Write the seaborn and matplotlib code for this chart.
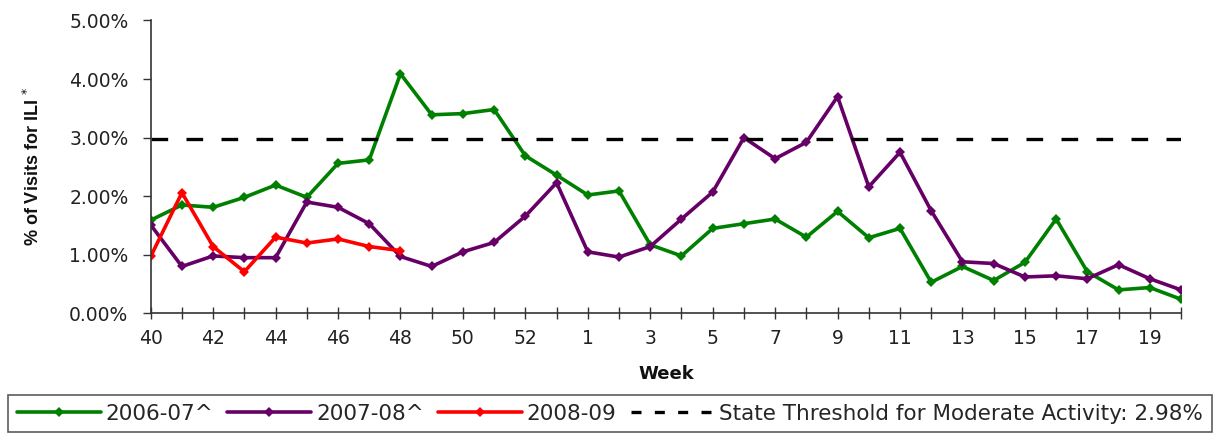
import matplotlib
matplotlib.use("Agg")
import matplotlib.pyplot as plt
import seaborn as sns
import pandas as pd

# week labels along the season (40..53, then 1..20)
weeks = [40, 41, 42, 43, 44, 45, 46, 47, 48, 49, 50, 51, 52, 53,
         1, 2, 3, 4, 5, 6, 7, 8, 9, 10, 11, 12, 13, 14, 15, 16, 17, 18, 19, 20]

ili_2006 = [1.59, 1.85, 1.81, 1.98, 2.19, 1.98, 2.56, 2.62, 4.09, 3.39, 3.41, 3.48,
            2.69, 2.36, 2.02, 2.09, 1.17, 0.98, 1.45, 1.53, 1.61, 1.30, 1.74, 1.29,
            1.45, 0.53, 0.80, 0.56, 0.87, 1.61, 0.71, 0.40, 0.44, 0.24]
ili_2007 = [1.51, 0.80, 0.98, 0.95, 0.95, 1.90, 1.81, 1.53, 0.97, 0.80, 1.05, 1.21,
            1.66, 2.23, 1.05, 0.96, 1.14, 1.61, 2.07, 3.00, 2.64, 2.92, 3.70, 2.16,
            2.75, 1.75, 0.88, 0.85, 0.62, 0.64, 0.59, 0.83, 0.59, 0.40]
ili_2008 = [0.97, 2.06, 1.14, 0.71, 1.30, 1.20, 1.27, 1.14, 1.07]
threshold = 2.98

seasons = ["2006-07^", "2007-08^", "2008-09"]
colors = {"2006-07^": "#008000", "2007-08^": "#660066", "2008-09": "#ff0000"}

rows = []
for name, vals in zip(seasons, [ili_2006, ili_2007, ili_2008]):
    for i, v in enumerate(vals):
        rows.append({"idx": i, "ili": v, "season": name})
df = pd.DataFrame(rows)

sns.set_style("white")
plt.rcParams["font.family"] = ["DejaVu Sans"]

fig = plt.figure(figsize=(12.23, 4.36), dpi=100)
ax = fig.add_axes([150.7 / 1223, 1 - 313.3 / 436, 1030.3 / 1223, 292.8 / 436])

sns.lineplot(data=df, x="idx", y="ili", hue="season", hue_order=seasons,
             palette=colors, marker="D", markersize=5, markeredgewidth=0,
             linewidth=2.6, ax=ax, legend=False)
ax.axhline(threshold, color="black", linestyle=(0, (5, 5.5)), linewidth=2.4)

ax.set_xlim(0, len(weeks) - 1)
ax.set_ylim(0, 5)
ax.set_yticks([0, 1, 2, 3, 4, 5])
ax.set_yticklabels([f"{v:.2f}%" for v in [0, 1, 2, 3, 4, 5]], fontsize=13.5, color="#222222")
ax.set_xticks(range(len(weeks)))
ax.set_xticklabels([str(w) if i % 2 == 0 else "" for i, w in enumerate(weeks)],
                   fontsize=13.5, color="#222222")
ax.tick_params(axis="y", left=True, direction="out", length=6, width=1, pad=10, color="#333333")
ax.tick_params(axis="x", bottom=True, direction="inout", length=9, width=1, pad=7, color="#333333")

for s in ["top", "right"]:
    ax.spines[s].set_visible(False)
for s in ["left", "bottom"]:
    ax.spines[s].set_color("#333333")
    ax.spines[s].set_linewidth(1.2)

ax.set_xlabel("Week", fontsize=13, fontweight="bold", color="#111111")
ax.xaxis.set_label_coords(0.5, -0.175)
ax.set_ylabel("% of Visits for ILI $^{*}$", fontsize=13, fontweight="bold",
              family="Liberation Sans", color="#111111")
ax.yaxis.set_label_coords(-0.1045, 0.5)

handles = [plt.Line2D([], [], color=colors[s], marker="D", markersize=5,
                      markeredgewidth=0, linewidth=2.6) for s in seasons]
handles.append(plt.Line2D([], [], color="black", linestyle=(0, (3, 4)), linewidth=2.4))
labels = seasons + ["State Threshold for Moderate Activity: 2.98%"]
leg = fig.legend(handles, labels, loc="upper left", bbox_to_anchor=(8 / 1223, 1 - 395 / 436),
                 ncol=4, fontsize=15.5, frameon=True, fancybox=False, handlelength=3.9,
                 handletextpad=0.23, columnspacing=0.65, borderpad=0.4, borderaxespad=0)
leg.get_frame().set_edgecolor("#333333")
leg.get_frame().set_linewidth(1.2)

fig.savefig("out.png", dpi=100)
